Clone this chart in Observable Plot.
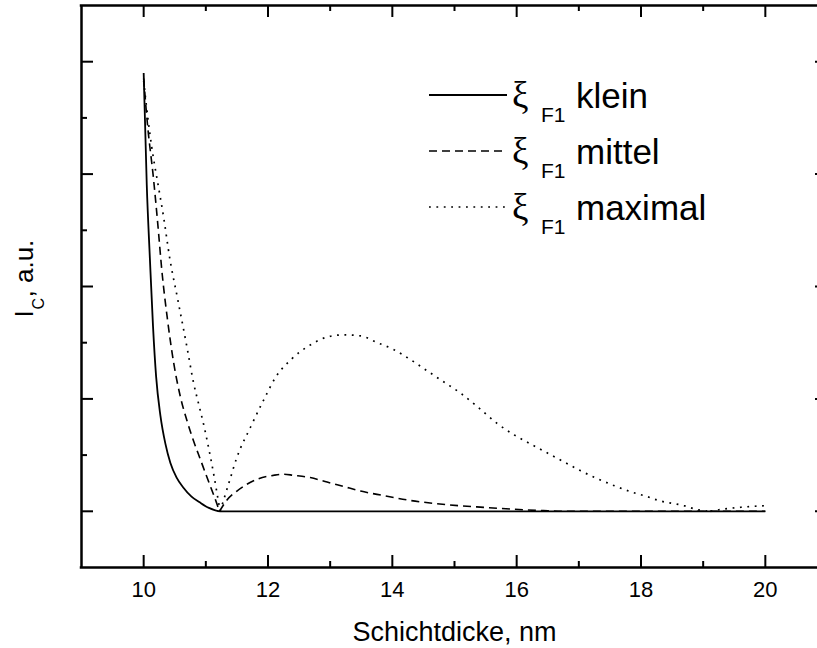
<!DOCTYPE html>
<html>
<head>
<meta charset="utf-8">
<script src="https://cdn.jsdelivr.net/npm/d3@7"></script>
<script src="https://cdn.jsdelivr.net/npm/@observablehq/plot@0.6"></script>
<style>
  html, body { margin: 0; padding: 0; background: #fff; overflow: hidden; }
  #wrap { position: relative; width: 817px; height: 648px; overflow: hidden; background: #fff; }
  #wrap > svg { position: absolute; left: 0; top: 0; max-width: none !important; overflow: hidden !important; }
</style>
</head>
<body>
<div id="wrap"></div>
<script>
// ---- axis domains and tick values ----
const xDomain = [9, 21];
const yDomain = [-0.5, 4.5];
const xMajor = [10, 12, 14, 16, 18, 20];
const xMinor = [11, 13, 15, 17, 19];
const yMajor = [0, 1, 2, 3, 4];
const yMinor = [0.5, 1.5, 2.5, 3.5];

// ---- series names / labels ----
const seriesNames = ["klein", "mittel", "maximal"];
const xTitle = "Schichtdicke, nm";
const yTitleMain = "I";
const yTitleSub = "C";
const yTitleRest = ", a.u.";
const legendSymbol = "\u03BE";
const legendSub = "F1";

// ---- ξF1 klein (solid) ----
const kleinX = [10.0, 10.05, 10.1, 10.15, 10.2, 10.27, 10.35, 10.43, 10.53, 10.64, 10.77, 10.9, 11.05, 11.23, 20.0];
const kleinY = [3.9, 2.9, 2.25, 1.65, 1.2, 0.85, 0.6, 0.43, 0.3, 0.21, 0.13, 0.08, 0.03, 0.0, 0.0];
const kleinBreaks = [];

// ---- ξF1 mittel (dashed) ----
const mittelX = [10.0, 10.06, 10.16, 10.22, 10.3, 10.38, 10.48, 10.59, 10.7, 10.8, 10.92, 11.02, 11.13, 11.22,
                 11.34, 11.5, 11.66, 11.85, 12.09, 12.25, 12.41, 12.68, 12.95, 13.22, 13.49, 13.86, 14.25, 14.67,
                 15.07, 15.47, 15.9, 16.43, 16.8, 20.0];
const mittelY = [3.85, 3.45, 2.95, 2.6, 2.1, 1.72, 1.33, 1.02, 0.8, 0.63, 0.45, 0.3, 0.14, 0.0,
                 0.1, 0.18, 0.24, 0.29, 0.32, 0.33, 0.32, 0.3, 0.26, 0.22, 0.18, 0.14, 0.1, 0.07,
                 0.05, 0.035, 0.02, 0.006, 0.0, 0.0];
const mittelBreaks = [11.22];

// ---- ξF1 maximal (dotted) ----
const maximalX = [10.0, 10.05, 10.13, 10.24, 10.32, 10.42, 10.55, 10.7, 10.8, 10.9, 10.97, 11.05, 11.13, 11.18, 11.23,
                  11.37, 11.5, 11.72, 11.93, 12.12, 12.39, 12.68, 12.95, 13.22, 13.49, 13.76, 14.02, 14.29, 14.56,
                  14.83, 15.1, 15.37, 15.69, 15.96, 16.22, 16.49, 16.76, 17.03, 17.3, 17.56, 17.83, 18.13, 18.26,
                  18.69, 18.93, 19.12, 19.33, 19.61, 20.0];
const maximalY = [3.83, 3.58, 3.24, 2.88, 2.62, 2.25, 1.88, 1.45, 1.15, 0.92, 0.76, 0.55, 0.32, 0.16, 0.0,
                  0.25, 0.48, 0.75, 0.99, 1.19, 1.36, 1.48, 1.55, 1.57, 1.56, 1.5, 1.44, 1.35, 1.25,
                  1.15, 1.05, 0.93, 0.78, 0.68, 0.6, 0.52, 0.44, 0.36, 0.29, 0.23, 0.175, 0.125, 0.1,
                  0.05, 0.012, 0.0, 0.02, 0.036, 0.05];
const maximalBreaks = [11.23, 19.12];

// ---- build rows: split each curve into branches at its minima so the corners stay sharp ----
function build(xs, ys, breaks) {
  const rows = [];
  xs.forEach((x, i) => {
    const b = breaks.filter(t => x > t).length;
    rows.push({x, y: ys[i], b});
    if (breaks.includes(x)) rows.push({x, y: ys[i], b: b + 1});
  });
  return rows;
}
const seriesRows = [
  build(kleinX, kleinY, kleinBreaks),
  build(mittelX, mittelY, mittelBreaks),
  build(maximalX, maximalY, maximalBreaks)
];
const dashArrays = [null, "8,5", "1.8,5.6"];
const strokeWidths = [1.8, 1.6, 1.7];

// ---- layout: the right edge of the box (x = 21) lies just outside the 817 px window ----
const W = 817, H = 648;
const mL = 81, mR = -10, mT = 5, mB = 81;
const plotW = W - mL - mR, plotH = H - mT - mB;
const majorLen = 12, minorLen = 6;
const font = "'Liberation Sans', Arial, Helvetica, sans-serif";

const lineMarks = seriesRows.map((rows, i) =>
  Plot.line(rows, {
    x: "x", y: "y", z: "b", curve: "monotone-x",
    stroke: "black", strokeWidth: strokeWidths[i],
    strokeDasharray: dashArrays[i] || undefined,
    strokeLinecap: "butt"
  })
);

const tickOpts = {stroke: "black", strokeWidth: 2};
const chart = Plot.plot({
  width: W, height: H,
  marginLeft: mL, marginRight: mR, marginTop: mT, marginBottom: mB,
  x: {domain: xDomain},
  y: {domain: yDomain, axis: null},
  style: {fontFamily: font, background: "white", color: "black", maxWidth: "none", overflow: "hidden"},
  marks: [
    ...lineMarks,
    // bottom ticks
    Plot.tickX(xMajor, {x: d => d, insetTop: plotH - majorLen, ...tickOpts}),
    Plot.tickX(xMinor, {x: d => d, insetTop: plotH - minorLen, ...tickOpts}),
    // top ticks
    Plot.tickX(xMajor, {x: d => d, insetBottom: plotH - majorLen, ...tickOpts}),
    Plot.tickX(xMinor, {x: d => d, insetBottom: plotH - minorLen, ...tickOpts}),
    // left ticks
    Plot.tickY(yMajor, {y: d => d, insetRight: plotW - majorLen, ...tickOpts}),
    Plot.tickY(yMinor, {y: d => d, insetRight: plotW - minorLen, ...tickOpts}),
    // right ticks
    Plot.tickY(yMajor, {y: d => d, insetLeft: plotW - majorLen, ...tickOpts}),
    Plot.tickY(yMinor, {y: d => d, insetLeft: plotW - minorLen, ...tickOpts}),
    // box sides: left edge, bottom and top (the right edge is off-window)
    Plot.ruleX([xDomain[0]], {x: d => d, stroke: "black", strokeWidth: 2.5}),
    Plot.ruleY(yDomain, {y: d => d, stroke: "black", strokeWidth: 2.5, strokeLinecap: "square"}),
    Plot.axisX(xMajor, {tickSize: 0, tickPadding: 14, fontSize: 22, label: null, fill: "black"}),
    // x title
    Plot.text([xTitle], {text: d => d, frameAnchor: "bottom", dy: 73, fontSize: 27, fill: "black"}),
    // y title pieces (rotated)
    Plot.text([yTitleMain], {text: d => d, frameAnchor: "left", rotate: -90, textAnchor: "start",
      dx: -57, dy: 31, fontSize: 26, fill: "black"}),
    Plot.text([yTitleSub], {text: d => d, frameAnchor: "left", rotate: -90, textAnchor: "start",
      dx: -43, dy: 23, fontSize: 16, fill: "black"}),
    Plot.text([yTitleRest], {text: d => d, frameAnchor: "left", rotate: -90, textAnchor: "start",
      dx: -57, dy: 11, fontSize: 26, fill: "black"})
  ]
});
document.getElementById("wrap").appendChild(chart);

// ---- legend overlay ----
const leg = d3.create("svg")
  .attr("width", 817).attr("height", 648)
  .style("pointer-events", "none");
seriesNames.forEach((name, i) => {
  const base = 108 + 56 * i;
  leg.append("line")
    .attr("x1", 429).attr("x2", 507)
    .attr("y1", base - 13).attr("y2", base - 13)
    .attr("stroke", "black").attr("stroke-width", strokeWidths[i])
    .attr("stroke-dasharray", dashArrays[i]);
  leg.append("text").attr("x", 512).attr("y", base)
    .attr("font-family", "'Liberation Serif', 'DejaVu Serif', serif").attr("font-size", 37)
    .text(legendSymbol);
  leg.append("text").attr("x", 541).attr("y", base + 14)
    .attr("font-family", font).attr("font-size", 21)
    .text(legendSub);
  leg.append("text").attr("x", 576).attr("y", base)
    .attr("font-family", font).attr("font-size", 35)
    .text(name);
});
document.getElementById("wrap").appendChild(leg.node());
</script>
</body>
</html>
